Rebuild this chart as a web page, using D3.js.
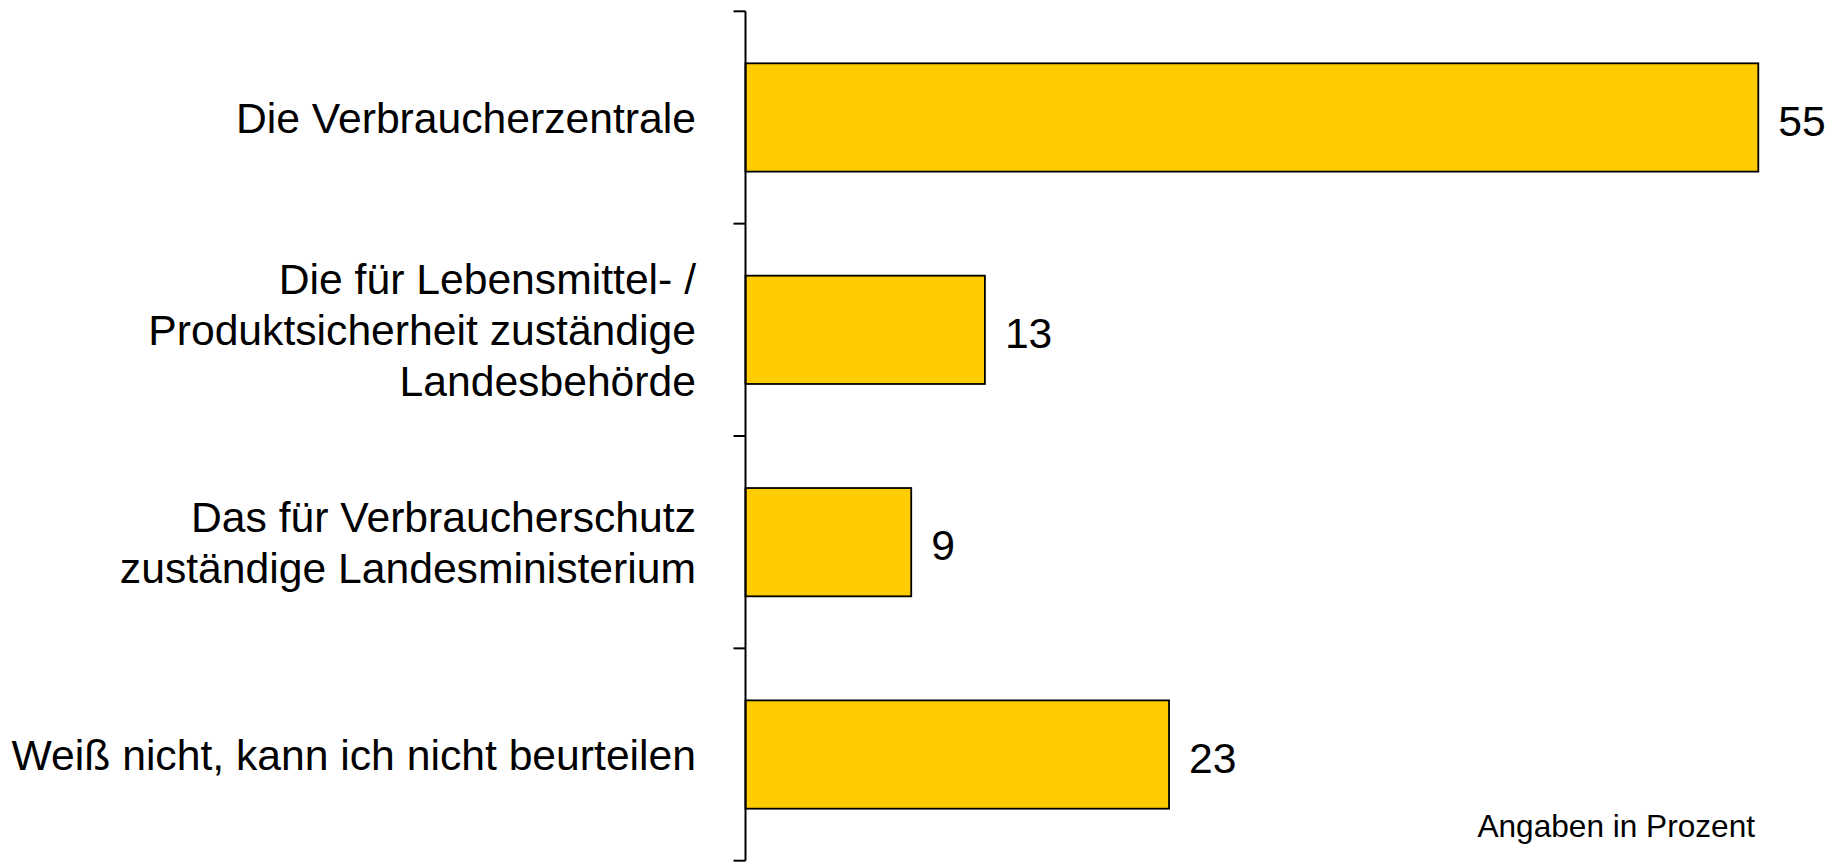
<!DOCTYPE html>
<html>
<head>
<meta charset="utf-8">
<script src="https://cdn.jsdelivr.net/npm/d3@7"></script>
<style>
  html, body { margin: 0; padding: 0; background: #fff; }
  svg { display: block; font-family: "Liberation Sans", Arial, sans-serif; }
</style>
</head>
<body>
<div id="chart"></div>
<script>
// categories (label lines) and percentages
var categories = [
	['Die Verbraucherzentrale'],
	['Die für Lebensmittel- /', 'Produktsicherheit zuständige', 'Landesbehörde'],
	['Das für Verbraucherschutz', 'zuständige Landesministerium'],
	['Weiß nicht, kann ich nicht beurteilen']
];
var values = [55, 13, 9, 23];
var note = 'Angaben in Prozent';

var W = 1838, H = 864;
var axisX = 745.5, axisTop = 11.3, axisBottom = 860.7;

var svg = d3.select('#chart')
	.append('svg')
	.attr('width', W)
	.attr('height', H);

var keys = categories.map(function(c, i) { return i; });

var y = d3.scaleBand()
	.domain(keys)
	.range([axisTop, axisBottom])
	.paddingInner(0.49)
	.paddingOuter(0.245);

var x = d3.scaleLinear()
	.domain([0, 55])
	.range([axisX, 1758.3]);

var data = keys.map(function(k) {
	return { key: k, lines: categories[k], value: values[k] };
});

// bars
svg.selectAll('.bar')
	.data(data)
	.enter()
	.append('rect')
	.attr('class', 'bar')
	.attr('x', x(0))
	.attr('y', d => y(d.key))
	.attr('width', d => x(d.value) - x(0))
	.attr('height', y.bandwidth())
	.attr('fill', '#ffcc00')
	.attr('stroke', '#000')
	.attr('stroke-width', 1.8);

// axis line + ticks at band boundaries
var step = y.step();
var bounds = keys.map(k => y(k) - step * y.paddingInner() / 2);
bounds.push(axisBottom);

svg.append('line')
	.attr('x1', axisX).attr('x2', axisX)
	.attr('y1', axisTop).attr('y2', axisBottom)
	.attr('stroke', '#000')
	.attr('stroke-width', 2);

svg.selectAll('.tick')
	.data(bounds)
	.enter()
	.append('line')
	.attr('class', 'tick')
	.attr('x1', axisX - 12).attr('x2', axisX)
	.attr('y1', d => d).attr('y2', d => d)
	.attr('stroke', '#000')
	.attr('stroke-width', 2);

// category labels
var fs = 42.67, lh = 51;
var labels = svg.selectAll('.cat')
	.data(data)
	.enter()
	.append('text')
	.attr('class', 'cat')
	.attr('text-anchor', 'end')
	.attr('font-size', fs)
	.attr('fill', '#000');

labels.each(function(d) {
	var cy = y(d.key) + y.bandwidth() / 2;
	var n = d.lines.length;
	var first = cy - (n - 1) * lh / 2 + fs * 0.355;
	d3.select(this).selectAll('tspan')
		.data(d.lines)
		.enter()
		.append('tspan')
		.attr('x', 696)
		.attr('y', (l, i) => first + i * lh)
		.text(l => l);
});

// value labels
svg.selectAll('.val')
	.data(data)
	.enter()
	.append('text')
	.attr('class', 'val')
	.attr('x', d => x(d.value) + 20)
	.attr('y', d => y(d.key) + y.bandwidth() / 2 + fs * 0.355 + 3)
	.attr('font-size', fs)
	.attr('fill', '#000')
	.text(d => d.value);

// note
svg.append('text')
	.attr('x', 1755)
	.attr('y', 836.5)
	.attr('text-anchor', 'end')
	.attr('font-size', 31.6)
	.attr('fill', '#000')
	.text(note);
</script>
</body>
</html>
